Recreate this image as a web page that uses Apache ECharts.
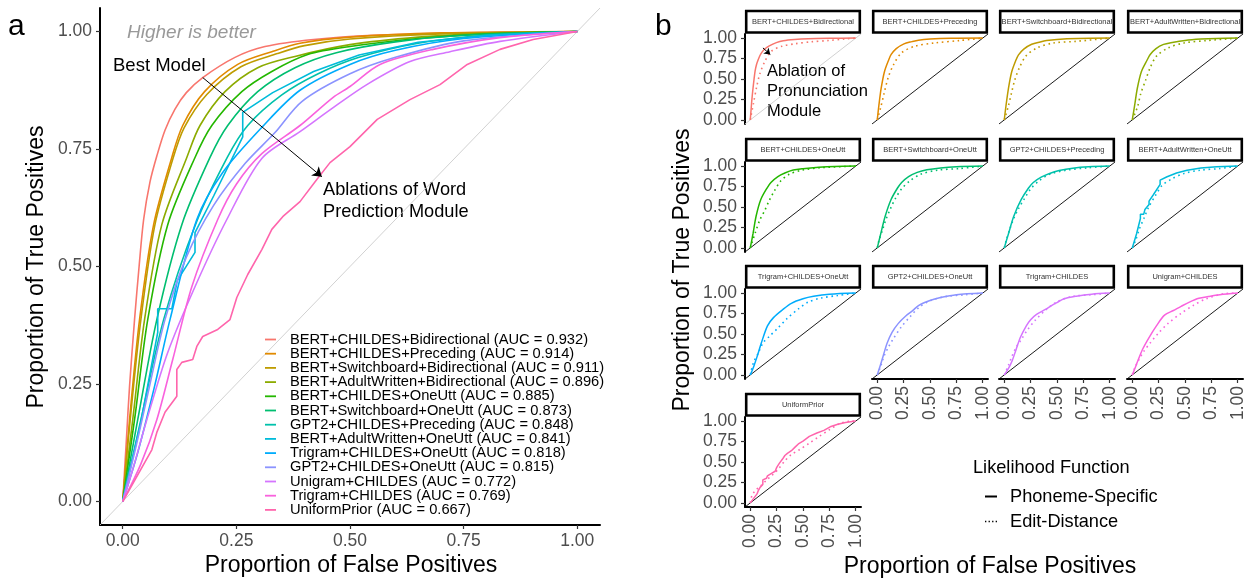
<!DOCTYPE html>
<html>
<head>
<meta charset="utf-8">
<script src="https://cdn.jsdelivr.net/npm/echarts@6/dist/echarts.min.js"></script>
<style>
html,body{margin:0;padding:0;background:#fff}
#chart{width:1259px;height:580px}
</style>
</head>
<body>
<div id="chart"></div>
<script>
// legend order (panel a), sorted by AUC
const modelNames = ['BERT+CHILDES+Bidirectional','BERT+CHILDES+Preceding','BERT+Switchboard+Bidirectional',
  'BERT+AdultWritten+Bidirectional','BERT+CHILDES+OneUtt','BERT+Switchboard+OneUtt','GPT2+CHILDES+Preceding',
  'BERT+AdultWritten+OneUtt','Trigram+CHILDES+OneUtt','GPT2+CHILDES+OneUtt','Unigram+CHILDES','Trigram+CHILDES','UniformPrior'];
const aucValues = [0.932,0.914,0.911,0.896,0.885,0.873,0.848,0.841,0.818,0.815,0.772,0.769,0.667];
// facet order (panel b)
const panelNames = ['BERT+CHILDES+Bidirectional','BERT+CHILDES+Preceding','BERT+Switchboard+Bidirectional',
  'BERT+AdultWritten+Bidirectional','BERT+CHILDES+OneUtt','BERT+Switchboard+OneUtt','GPT2+CHILDES+Preceding',
  'BERT+AdultWritten+OneUtt','Trigram+CHILDES+OneUtt','GPT2+CHILDES+OneUtt','Trigram+CHILDES','Unigram+CHILDES','UniformPrior'];
const tickValues = [0, 0.25, 0.5, 0.75, 1];

// ROC points [false positive rate, true positive rate], phoneme-specific likelihood
const rocBertChildesBidir = [[0,0],[0.008,0.13],[0.015,0.245],[0.026,0.387],[0.036,0.5],[0.046,0.6],[0.06,0.68],[0.075,0.735],[0.093,0.79],[0.115,0.835],[0.14,0.87],[0.176,0.902],[0.247,0.945],[0.313,0.968],[0.42,0.983],[0.55,0.992],[0.75,0.997],[1,1]];
const rocBertChildesPrec = [[0,0],[0.015,0.174],[0.037,0.387],[0.068,0.589],[0.108,0.732],[0.132,0.8],[0.18,0.872],[0.253,0.93],[0.328,0.957],[0.39,0.975],[0.5,0.988],[0.7,0.997],[1,1]];
const rocBertSwbBidir = [[0,0],[0.016,0.17],[0.039,0.38],[0.07,0.585],[0.11,0.728],[0.135,0.795],[0.185,0.866],[0.26,0.925],[0.34,0.953],[0.4,0.97],[0.5,0.984],[0.7,0.995],[1,1]];
const rocBertAdultBidir = [[0,0],[0.022,0.174],[0.048,0.387],[0.086,0.589],[0.141,0.732],[0.17,0.8],[0.225,0.872],[0.297,0.923],[0.379,0.947],[0.5,0.972],[0.65,0.988],[0.8,0.996],[1,1]];
const rocBertChildesOne = [[0,0],[0.026,0.174],[0.055,0.387],[0.099,0.589],[0.159,0.732],[0.196,0.8],[0.262,0.872],[0.328,0.915],[0.407,0.951],[0.5,0.968],[0.65,0.985],[0.8,0.995],[1,1]];
const rocBertSwbOne = [[0,0],[0.033,0.174],[0.075,0.387],[0.13,0.589],[0.192,0.732],[0.231,0.8],[0.297,0.872],[0.379,0.923],[0.47,0.955],[0.6,0.978],[0.75,0.992],[1,1]];
const rocGpt2ChildesPrec = [[0,0],[0.04,0.174],[0.09,0.387],[0.16,0.589],[0.23,0.732],[0.275,0.8],[0.35,0.865],[0.43,0.91],[0.52,0.945],[0.65,0.975],[0.8,0.992],[1,1]];
const rocBertAdultOne = [[0,0],[0.04,0.17],[0.077,0.36],[0.077,0.41],[0.108,0.41],[0.12,0.47],[0.159,0.53],[0.159,0.572],[0.2,0.65],[0.264,0.776],[0.264,0.828],[0.33,0.87],[0.42,0.915],[0.52,0.95],[0.65,0.977],[0.8,0.992],[1,1]];
const rocTrigramChildesOne = [[0,0],[0.033,0.104],[0.07,0.245],[0.104,0.387],[0.163,0.6],[0.22,0.7],[0.306,0.796],[0.39,0.875],[0.5,0.93],[0.6,0.96],[0.75,0.985],[1,1]];
const rocGpt2ChildesOne = [[0,0],[0.03,0.12],[0.06,0.25],[0.093,0.387],[0.14,0.52],[0.2,0.63],[0.27,0.72],[0.335,0.785],[0.394,0.851],[0.5,0.91],[0.6,0.945],[0.75,0.98],[1,1]];
const rocUnigramChildes = [[0,0],[0.022,0.068],[0.053,0.174],[0.099,0.317],[0.159,0.457],[0.229,0.6],[0.306,0.73],[0.39,0.787],[0.463,0.838],[0.537,0.887],[0.632,0.936],[0.72,0.957],[0.83,0.979],[1,1]];
const rocTrigramChildes = [[0,0],[0.04,0.08],[0.075,0.174],[0.11,0.302],[0.152,0.457],[0.209,0.6],[0.25,0.675],[0.306,0.74],[0.39,0.8],[0.463,0.86],[0.5,0.883],[0.566,0.93],[0.683,0.962],[0.83,0.987],[1,1]];
const rocUniformPrior = [[0,0],[0.064,0.11],[0.075,0.147],[0.093,0.19],[0.119,0.224],[0.119,0.281],[0.13,0.296],[0.154,0.302],[0.163,0.33],[0.176,0.351],[0.209,0.366],[0.236,0.387],[0.251,0.434],[0.275,0.483],[0.306,0.536],[0.328,0.579],[0.352,0.606],[0.39,0.638],[0.427,0.685],[0.456,0.721],[0.5,0.755],[0.56,0.813],[0.632,0.855],[0.698,0.887],[0.758,0.93],[0.83,0.962],[0.903,0.983],[1,1]];

// edit-distance likelihood (dotted, panel b)
const edBertChildesBidir = [[0,0],[0.03,0.2],[0.06,0.4],[0.09,0.56],[0.14,0.72],[0.2,0.84],[0.3,0.9],[0.42,0.93],[0.58,0.955],[0.74,0.97],[0.9,0.99],[1,1]];
const edBertChildesPrec = [[0,0],[0.034,0.16],[0.064,0.32],[0.104,0.52],[0.156,0.68],[0.23,0.82],[0.355,0.9],[0.54,0.94],[0.78,0.97],[1,1]];
const edBertSwbBidir = [[0,0],[0.037,0.16],[0.067,0.32],[0.098,0.48],[0.144,0.64],[0.205,0.78],[0.31,0.88],[0.465,0.94],[0.68,0.96],[1,1]];
const edBertAdultBidir = [[0,0],[0.05,0.16],[0.08,0.32],[0.125,0.48],[0.17,0.64],[0.23,0.78],[0.34,0.88],[0.49,0.94],[0.71,0.97],[1,1]];
const edBertChildesOne = [[0,0],[0.015,0.06],[0.046,0.18],[0.09,0.34],[0.138,0.46],[0.18,0.58],[0.23,0.7],[0.29,0.82],[0.37,0.9],[0.49,0.95],[0.67,0.98],[1,1]];
const edBertSwbOne = [[0,0],[0.018,0.1],[0.05,0.22],[0.08,0.34],[0.125,0.48],[0.17,0.6],[0.23,0.72],[0.31,0.82],[0.41,0.9],[0.57,0.95],[0.78,0.97],[1,1]];
const edGpt2ChildesPrec = [[0,0],[0.02,0.1],[0.05,0.22],[0.09,0.36],[0.135,0.48],[0.19,0.6],[0.25,0.72],[0.33,0.82],[0.43,0.9],[0.59,0.95],[0.8,0.98],[1,1]];
const edBertAdultOne = [[0,0],[0.034,0.1],[0.07,0.24],[0.11,0.36],[0.156,0.5],[0.22,0.64],[0.28,0.76],[0.37,0.84],[0.49,0.91],[0.645,0.95],[0.83,0.97],[1,1]];
const edTrigramChildesOne = [[0,0],[0.03,0.15],[0.077,0.27],[0.12,0.39],[0.18,0.47],[0.26,0.57],[0.35,0.69],[0.46,0.81],[0.55,0.89],[0.67,0.94],[0.83,0.97],[1,1]];
const edGpt2ChildesOne = [[0,0],[0.034,0.11],[0.064,0.23],[0.11,0.35],[0.156,0.45],[0.23,0.59],[0.31,0.71],[0.4,0.83],[0.508,0.91],[0.66,0.96],[0.84,0.98],[1,1]];
const edTrigramChildes = [[0,0],[0.037,0.11],[0.067,0.21],[0.11,0.33],[0.16,0.43],[0.22,0.55],[0.295,0.67],[0.39,0.79],[0.495,0.89],[0.65,0.96],[0.83,0.98],[1,1]];
const edUnigramChildes = [[0,0],[0.018,0.07],[0.064,0.19],[0.11,0.29],[0.17,0.39],[0.248,0.51],[0.34,0.63],[0.46,0.75],[0.58,0.85],[0.7,0.93],[0.86,0.99],[1,1]];
const edUniformPrior = [[0,0],[0.016,0.09],[0.047,0.15],[0.093,0.2],[0.155,0.28],[0.2,0.33],[0.264,0.41],[0.326,0.51],[0.388,0.59],[0.466,0.65],[0.56,0.73],[0.65,0.81],[0.745,0.89],[0.85,0.97],[0.96,1],[1,1]];

const legendCurves = [rocBertChildesBidir,rocBertChildesPrec,rocBertSwbBidir,rocBertAdultBidir,rocBertChildesOne,rocBertSwbOne,
  rocGpt2ChildesPrec,rocBertAdultOne,rocTrigramChildesOne,rocGpt2ChildesOne,rocUnigramChildes,rocTrigramChildes,rocUniformPrior];
const panelSolid = [rocBertChildesBidir,rocBertChildesPrec,rocBertSwbBidir,rocBertAdultBidir,rocBertChildesOne,rocBertSwbOne,
  rocGpt2ChildesPrec,rocBertAdultOne,rocTrigramChildesOne,rocGpt2ChildesOne,rocTrigramChildes,rocUnigramChildes,rocUniformPrior];
const panelDotted = [edBertChildesBidir,edBertChildesPrec,edBertSwbBidir,edBertAdultBidir,edBertChildesOne,edBertSwbOne,
  edGpt2ChildesPrec,edBertAdultOne,edTrigramChildesOne,edGpt2ChildesOne,edTrigramChildes,edUnigramChildes,edUniformPrior];
// curves with visible steps are drawn without smoothing
const steppedCurves = [rocBertAdultOne, rocUniformPrior];

// ggplot hue palette, 13 levels
const palette = ['#F8766D','#E18A00','#BE9C00','#8CAB00','#24B700','#00BE70','#00C1AB','#00BBDA','#00ACFC','#8B93FF','#D575FE','#F962DD','#FF65AC'];

const FONT = 'Liberation Sans, Arial, Helvetica, sans-serif';
const fmt = v => v.toFixed(2);
const smoothOf = d => steppedCurves.includes(d) ? false : 0.3;

function makeAxis(gridIndex, showLine, showLabels, isX, fontSize) {
  return {
    type: 'value', gridIndex: gridIndex, min: -0.05, max: 1.05,
    splitLine: {show: false},
    axisLine: {show: showLine, onZero: false, lineStyle: {color: '#000', width: 2}},
    axisTick: {show: showLine, length: 4, customValues: tickValues, lineStyle: {color: '#333', width: 1.2}},
    axisLabel: {
      show: showLabels, customValues: tickValues, formatter: fmt,
      color: '#4D4D4D', fontSize: fontSize, fontFamily: FONT,
      margin: isX ? 7 : 8, rotate: (isX && gridIndex > 0) ? 90 : 0
    }
  };
}

const grids = [{left: 100, top: 8, width: 500, height: 517, outerBoundsMode: 'none'}];
const xAxes = [makeAxis(0, true, true, true, 17.5)];
const yAxes = [makeAxis(0, true, true, false, 17.5)];
const series = [];
const graphics = [];

// panel a
series.push({
  type: 'line', name: 'diag-a', xAxisIndex: 0, yAxisIndex: 0, showSymbol: false, silent: true,
  data: [[-0.05,-0.05],[1.05,1.05]], lineStyle: {color: '#CCCCCC', width: 0.9}, z: 1,
  markLine: {
    silent: true, symbol: ['none','arrow'], symbolSize: 9, label: {show: false},
    lineStyle: {color: '#000', width: 1, type: 'solid'},
    data: [[{coord: [0.176, 0.902]}, {coord: [0.438, 0.691]}]]
  }
});
modelNames.forEach((nm, i) => {
  series.push({
    type: 'line', name: nm + ' (AUC = ' + aucValues[i].toFixed(3) + ')',
    xAxisIndex: 0, yAxisIndex: 0, showSymbol: false,
    smooth: smoothOf(legendCurves[i]),
    data: legendCurves[i], color: palette[i],
    lineStyle: {color: palette[i], width: 1.6}, z: 2
  });
});

// panel b small multiples
const colLeft = [745, 872, 999, 1127];
const rowTop = [34, 162, 289, 417];
const pw = 116, ph = 90;
panelNames.forEach((nm, i) => {
  const r = Math.floor(i / 4), c = i % 4;
  const g = i + 1;
  grids.push({left: colLeft[c], top: rowTop[r], width: pw, height: ph, outerBoundsMode: 'none'});
  const hasX = (i >= 9);
  const hasY = (c === 0);
  xAxes.push(makeAxis(g, hasX, hasX, true, 17.5));
  yAxes.push(makeAxis(g, hasY, hasY, false, 17.5));
  const diag = {
    type: 'line', name: 'diag', xAxisIndex: g, yAxisIndex: g, showSymbol: false, silent: true,
    data: [[-0.05,-0.05],[1.05,1.05]], lineStyle: {color: i === 0 ? '#CCCCCC' : '#000', width: 0.9}, z: 1
  };
  if (i === 0) {
    diag.markLine = {
      silent: true, symbol: ['none','arrow'], symbolSize: 6, label: {show: false},
      lineStyle: {color: '#000', width: 1, type: 'solid'},
      data: [[{coord: [0.12, 0.88]}, {coord: [0.19, 0.8]}]]
    };
  }
  series.push(diag);
  series.push({
    type: 'line', name: 'Edit-Distance', xAxisIndex: g, yAxisIndex: g, showSymbol: false,
    smooth: 0.3,
    data: panelDotted[i], color: palette[i],
    lineStyle: {color: palette[i], width: 1.6, type: [1.6, 3.6]}, z: 2
  });
  series.push({
    type: 'line', name: 'Phoneme-Specific', xAxisIndex: g, yAxisIndex: g, showSymbol: false,
    smooth: smoothOf(panelSolid[i]),
    data: panelSolid[i], color: palette[i],
    lineStyle: {color: palette[i], width: 1.5}, z: 3
  });
  // facet strip
  graphics.push({
    type: 'rect', shape: {x: colLeft[c] + 1.2, y: rowTop[r] - 23, width: pw - 2.4, height: 21.5},
    style: {fill: '#fff', stroke: '#000', lineWidth: 2.6}, silent: true
  });
  graphics.push({
    type: 'text', x: colLeft[c] + pw / 2, y: rowTop[r] - 12.3, silent: true,
    style: {text: nm, fill: '#333333', font: '7.5px ' + FONT, align: 'center', verticalAlign: 'middle',
      textAlign: 'center', textVerticalAlign: 'middle'}
  });
});

function txt(x, y, s, size, opts) {
  const o = opts || {};
  return {
    type: 'text', x: x, y: y, rotation: o.rotation || 0, silent: true,
    style: {
      text: s, fill: o.color || '#000',
      font: (o.italic ? 'italic ' : '') + size + 'px ' + FONT,
      align: o.align || 'left', verticalAlign: 'middle',
      textAlign: o.align || 'left', textVerticalAlign: 'middle'
    }
  };
}
graphics.push(txt(8, 27, 'a', 30));
graphics.push(txt(655, 27, 'b', 30));
graphics.push(txt(37, 267, 'Proportion of True Positives', 23, {align: 'center', rotation: Math.PI / 2}));
graphics.push(txt(351, 566, 'Proportion of False Positives', 23, {align: 'center'}));
graphics.push(txt(683, 270, 'Proportion of True Positives', 23, {align: 'center', rotation: Math.PI / 2}));
graphics.push(txt(990, 567, 'Proportion of False Positives', 23, {align: 'center'}));
graphics.push(txt(127, 33, 'Higher is better', 19, {italic: true, color: '#999999'}));
graphics.push(txt(113, 66, 'Best Model', 18.5));
graphics.push(txt(323, 190, 'Ablations of Word', 18.2));
graphics.push(txt(323, 212, 'Prediction Module', 18.2));
graphics.push(txt(767, 71, 'Ablation of', 16.5));
graphics.push(txt(767, 91, 'Pronunciation', 16.5));
graphics.push(txt(767, 111, 'Module', 16.5));
graphics.push(txt(973, 468, 'Likelihood Function', 18.2));

const option = {
  animation: false,
  backgroundColor: '#fff',
  textStyle: {fontFamily: FONT},
  grid: grids,
  xAxis: xAxes,
  yAxis: yAxes,
  legend: [
    {
      orient: 'vertical', left: 260, top: 327, itemGap: -0.8, selectedMode: false,
      icon: 'rect', itemWidth: 11, itemHeight: 1.8,
      textStyle: {fontSize: 14.7, color: '#000', lineHeight: 14.3, padding: [0, 0, 0, 9], fontFamily: FONT},
      data: modelNames.map((nm, i) => nm + ' (AUC = ' + aucValues[i].toFixed(3) + ')')
    },
    {
      orient: 'vertical', left: 980, top: 479, itemGap: 0, selectedMode: false,
      itemWidth: 12, itemHeight: 2,
      textStyle: {fontSize: 18.2, color: '#000', lineHeight: 25, padding: [0, 0, 0, 8], fontFamily: FONT},
      data: [
        {name: 'Phoneme-Specific', icon: 'rect', itemStyle: {color: '#000'}},
        {name: 'Edit-Distance', icon: 'path://M0,0h1.5v1.5h-1.5z M4,0h1.5v1.5h-1.5z M8,0h1.5v1.5h-1.5z M12,0h1.5v1.5h-1.5z', itemStyle: {color: '#000'}}
      ]
    }
  ],
  graphic: graphics,
  series: series
};

const chart = echarts.init(document.getElementById('chart'), null, {renderer: 'canvas'});
chart.setOption(option);
</script>
</body>
</html>
